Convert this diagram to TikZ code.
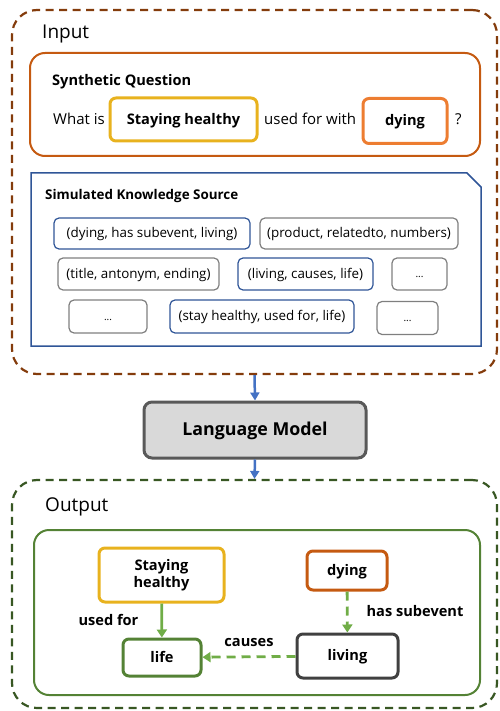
\documentclass[tikz,border=0pt]{standalone}
\usepackage{fontspec}
\setmainfont{Open Sans}
\usetikzlibrary{arrows.meta}
\definecolor{brownD}{HTML}{843C0C}
\definecolor{orangeQ}{HTML}{C55A11}
\definecolor{yellowS}{HTML}{E8B21E}
\definecolor{orangeL}{HTML}{ED7D31}
\definecolor{blueK}{HTML}{2F5597}
\definecolor{grayT}{HTML}{7F7F7F}
\definecolor{blueA}{HTML}{4472C4}
\definecolor{lmFill}{HTML}{D9D9D9}
\definecolor{lmDraw}{HTML}{595959}
\definecolor{greenD}{HTML}{385723}
\definecolor{greenB}{HTML}{548235}
\definecolor{greenA}{HTML}{70AD47}
\definecolor{darkG}{HTML}{404040}
\begin{document}
\begin{tikzpicture}[x=1pt,y=-1pt,
  every node/.style={inner sep=0pt},
  outerbox/.style={draw, dash pattern=on 8pt off 5.5pt, line width=2.2pt, rounded corners=25pt},
  qbox/.style={draw, line width=3pt, rounded corners=6pt, font=\fontsize{14.6}{17}\selectfont\bfseries, text height=10.5pt, text depth=0.7pt},
  triple/.style={draw, line width=1.2pt, rounded corners=5pt, font=\fontsize{13.4}{16}\selectfont, text height=9.6pt, text depth=0.7pt},
  dots/.style={triple, font=\fontsize{10}{12}\selectfont, text height=7pt, text depth=0pt},
  plain/.style={font=\fontsize{15}{18}\selectfont, text height=10.8pt, text depth=0.8pt},
  boldlbl/.style={font=\fontsize{14.6}{17}\selectfont\bfseries, text height=10.5pt, text depth=0.7pt},
  title/.style={font=\fontsize{19}{22}\selectfont, text height=13.7pt, text depth=1pt},
  gnode/.style={draw, line width=3pt, rounded corners=6pt, font=\fontsize{14.6}{17}\selectfont\bfseries, text height=10.5pt, text depth=0.7pt, align=center},
  bluearrow/.style={draw=blueA, line width=2.5pt, -{Triangle[length=8pt,width=9pt]}},
  greenarrow/.style={draw=greenA, line width=2.8pt, -{Triangle[length=8pt,width=10pt]}},
  dashedarrow/.style={greenarrow, dash pattern=on 9pt off 6pt}
]
\useasboundingbox (0,0) rectangle (499,711);

% ---------- Input ----------
\node[outerbox, draw=brownD, minimum width=485pt, minimum height=364pt] (inbox) at (254.5,192) {};
\node[title, anchor=west] (intitle) at (42,32) {Input};

\node[draw=orangeQ, line width=2pt, rounded corners=15pt, minimum width=450pt, minimum height=103pt] (sq) at (255,104.5) {};
\node[boldlbl, anchor=west] (sqt) at (52,81) {Synthetic Question};
\node[plain, anchor=west] (wi) at (53,119.5) {What is};
\node[qbox, draw=yellowS, minimum width=147pt, minimum height=43pt] (qsh) at (183.5,119.5) {Staying healthy};
\node[plain, anchor=west] (uf) at (264,119.5) {used for with};
\node[qbox, draw=orangeL, minimum width=84pt, minimum height=45pt] (qdy) at (405,121) {dying};
\node[plain, anchor=west] (qm) at (455,119.5) {?};

\draw[blueK, line width=1.5pt] (31,173) -- (467,173) -- (481,187) -- (481,346) -- (31,346) -- cycle;
\node[anchor=west, font=\fontsize{13.4}{16}\selectfont\bfseries, text height=9.6pt, text depth=0.7pt] (kst) at (45,195) {Simulated Knowledge Source};

\node[triple, draw=blueK, minimum width=196pt, minimum height=31pt] (t1) at (152,233.5) {(dying, has subevent, living)};
\node[triple, draw=grayT, minimum width=198pt, minimum height=31pt] (t2) at (359,233.5) {(product, relatedto, numbers)};
\node[triple, draw=grayT, minimum width=161pt, minimum height=32pt] (t3) at (138.5,274) {(title, antonym, ending)};
\node[triple, draw=blueK, minimum width=135pt, minimum height=32pt] (t4) at (305.5,274) {(living, causes, life)};
\node[dots, draw=grayT, minimum width=55pt, minimum height=32pt] (t5) at (419.5,274) {...};
\node[dots, draw=grayT, minimum width=78pt, minimum height=33pt] (t6) at (108,316.5) {...};
\node[triple, draw=blueK, minimum width=184pt, minimum height=33pt] (t7) at (262,316.5) {(stay healthy, used for, life)};
\node[dots, draw=grayT, minimum width=61pt, minimum height=33pt] (t8) at (407.5,318) {...};

% ---------- Language model ----------
\node[draw=lmDraw, fill=lmFill, line width=3pt, rounded corners=8pt, minimum width=222pt, minimum height=56pt, font=\fontsize{17.8}{21}\selectfont\bfseries, text height=12.8pt, text depth=0.9pt] (lm) at (255,430) {Language Model};
\draw[bluearrow] (inbox.south) -- (lm.north);

% ---------- Output ----------
\node[outerbox, draw=greenD, minimum width=485pt, minimum height=228pt] (outbox) at (254.5,594) {};
\node[title, anchor=west] (outtitle) at (45,505) {Output};
\draw[bluearrow] (lm.south) -- (outbox.north);

\node[draw=greenB, line width=2pt, rounded corners=15pt, minimum width=446pt, minimum height=165pt] (inner) at (257,612.5) {};

\node[gnode, draw=yellowS, minimum width=125pt, minimum height=54pt, text height=, text depth=] (sh) at (161.5,575) {Staying\\healthy};
\node[gnode, draw=orangeQ, minimum width=80pt, minimum height=39pt] (dy) at (347,570.5) {dying};
\node[gnode, draw=greenB, minimum width=78pt, minimum height=37pt] (life) at (162,657.5) {life};
\node[gnode, draw=darkG, minimum width=101pt, minimum height=44pt] (lv) at (347.5,656) {living};

\draw[greenarrow] (sh) -- node[boldlbl, left=22pt] {used for} (life);
\draw[dashedarrow] (dy) -- node[boldlbl, right=18pt] {has subevent} (lv);
\draw[dashedarrow] (lv) -- node[boldlbl, above=8pt] {causes} (life);
\end{tikzpicture}
\end{document}
